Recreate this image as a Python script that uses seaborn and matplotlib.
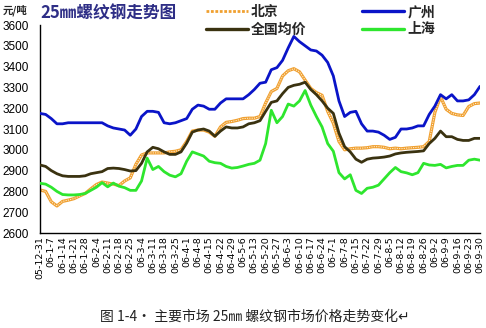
import numpy as np
import pandas as pd
import matplotlib
matplotlib.use("Agg")
import matplotlib.pyplot as plt
from matplotlib.lines import Line2D
import seaborn as sns

# half-week sample positions (days since 2005-12-31)
days = np.arange(79) * 3.5

guangzhou = [3175, 3170, 3150, 3125, 3125, 3130, 3130, 3130, 3130, 3130,
             3130, 3130, 3115, 3105, 3100, 3095, 3070, 3100, 3160, 3185,
             3185, 3180, 3130, 3125, 3130, 3140, 3150, 3195, 3215, 3210,
             3195, 3195, 3225, 3245, 3245, 3245, 3245, 3265, 3290, 3320,
             3325, 3385, 3395, 3430, 3490, 3545, 3520, 3500, 3480, 3475,
             3455, 3420, 3355, 3235, 3160, 3180, 3185, 3125, 3090, 3090,
             3085, 3070, 3050, 3060, 3100, 3100, 3105, 3115, 3115, 3170,
             3210, 3265, 3245, 3265, 3235, 3235, 3240, 3265, 3305]

national = [2927, 2920, 2900, 2885, 2875, 2872, 2872, 2872, 2875, 2885,
            2890, 2895, 2910, 2912, 2910, 2905, 2898, 2900, 2935, 2990,
            3012, 3005, 2990, 2978, 2978, 2990, 3032, 3085, 3095, 3100,
            3090, 3065, 3090, 3110, 3105, 3105, 3110, 3125, 3130, 3140,
            3185, 3228, 3235, 3270, 3300, 3310, 3315, 3325, 3290, 3265,
            3235, 3200, 3175, 3080, 3015, 2990, 2955, 2940, 2955, 2960,
            2962, 2965, 2970, 2980, 2985, 2988, 2990, 2992, 2995, 3030,
            3055, 3090, 3063, 3063, 3050, 3045, 3045, 3055, 3055]

beijing = [2807, 2800, 2750, 2730, 2752, 2758, 2765, 2778, 2790, 2812,
           2833, 2845, 2840, 2835, 2828, 2850, 2865, 2930, 2975, 2985,
           2985, 2985, 2985, 2990, 2993, 3000, 3040, 3090, 3095, 3095,
           3085, 3065, 3110, 3132, 3136, 3142, 3150, 3152, 3152, 3160,
           3225, 3280, 3295, 3355, 3380, 3390, 3375, 3335, 3295, 3275,
           3262, 3185, 3128, 3040, 3000, 3005, 3008, 3008, 3010, 3015,
           3015, 3012, 3005, 3008, 3005, 3008, 3010, 3012, 3015, 3040,
           3180, 3255, 3195, 3175, 3168, 3165, 3208, 3222, 3225]

shanghai = [2839, 2835, 2820, 2800, 2785, 2783, 2783, 2785, 2790, 2805,
            2820, 2842, 2822, 2840, 2825, 2818, 2805, 2805, 2850, 2960,
            2905, 2920, 2895, 2878, 2870, 2885, 2945, 2990, 2980, 2970,
            2945, 2938, 2935, 2920, 2912, 2915, 2922, 2930, 2935, 2950,
            3030, 3190, 3130, 3160, 3220, 3210, 3235, 3285, 3215, 3160,
            3110, 3030, 2993, 2890, 2860, 2880, 2805, 2790, 2815, 2820,
            2830, 2860, 2890, 2915, 2895, 2889, 2880, 2890, 2935, 2927,
            2925, 2930, 2913, 2920, 2925, 2925, 2950, 2955, 2950]

tick_labels = ["05-12-31", "06-1-7", "06-1-14", "06-1-21", "06-1-28", "06-2-4",
               "06-2-11", "06-2-18", "06-2-25", "06-3-4", "06-3-11", "06-3-18",
               "06-3-25", "06-4-1", "06-4-8", "06-4-15", "06-4-22", "06-4-29",
               "06-5-6", "06-5-13", "06-5-20", "06-5-27", "06-6-3", "06-6-10",
               "06-6-17", "06-6-24", "06-7-1", "06-7-8", "06-7-15", "06-7-22",
               "06-7-29", "06-8-5", "06-8-12", "06-8-19", "06-8-26", "06-9-2",
               "06-9-9", "06-9-16", "06-9-23", "06-9-30"]
tick_days = np.arange(len(tick_labels)) * 7

series_names = ["北京", "全国均价", "广州", "上海"]

sns.set_theme(style="white")
CJK = ["Noto Sans CJK SC", "DejaVu Sans"]
plt.rcParams["font.family"] = CJK

c_bj = "#F0A030"
c_nat = "#3A3210"
c_gz = "#0A14C8"
c_sh = "#2EE62E"

fig = plt.figure(figsize=(4.86, 3.28), dpi=100)
ax = fig.add_axes([40 / 486, 95 / 328, 440 / 486, 208 / 328])

df = pd.DataFrame({"day": days, "北京": beijing, "全国均价": national,
                   "广州": guangzhou, "上海": shanghai})

LW = 2.0
# Beijing: orange chain-like line
sns.lineplot(data=df, x="day", y="北京", ax=ax, color=c_bj, linewidth=2.3, zorder=2)
sns.lineplot(data=df, x="day", y="北京", ax=ax, color="#FFF4E0", linewidth=0.7,
             linestyle=(0, (1.2, 1.2)), zorder=2.1)
sns.lineplot(data=df, x="day", y="全国均价", ax=ax, color=c_nat, linewidth=LW, zorder=3)
sns.lineplot(data=df, x="day", y="上海", ax=ax, color=c_sh, linewidth=LW, zorder=4)
sns.lineplot(data=df, x="day", y="广州", ax=ax, color=c_gz, linewidth=LW, zorder=5)

ax.set_xlim(0, 273)
ax.set_ylim(2600, 3600)
ax.set_xticks(tick_days)
ax.set_xticklabels(tick_labels, rotation=90, fontsize=6.8, family=["DejaVu Sans"])
ax.set_yticks(np.arange(2600, 3601, 100))
ax.set_yticklabels([str(v) for v in range(2600, 3601, 100)], fontsize=8.5,
                   family=["Liberation Sans"])
ax.tick_params(axis="x", direction="in", length=3.5, width=0.8, pad=2, colors="black")
ax.tick_params(axis="y", direction="in", length=3.5, width=0.8, pad=8, colors="black")
ax.set_xlabel("")
ax.set_ylabel("")
for s in ["top", "right"]:
    ax.spines[s].set_visible(False)
for s in ["left", "bottom"]:
    ax.spines[s].set_color("black")
    ax.spines[s].set_linewidth(1.0)
ax.grid(False)

# titles
fig.text(3 / 486, 1 - 10 / 328, "元/吨", fontsize=7.5, fontweight="bold",
         va="center", ha="left", family=CJK)
fig.text(40 / 486, 1 - 13 / 328, "25㎜螺纹钢走势图", fontsize=12, fontweight="bold",
         color="#2E2E86", va="center", ha="left", family=CJK)

# legend
handles = [
    Line2D([], [], color=c_bj, linewidth=2.0, linestyle=(0, (1, 0.6))),
    Line2D([], [], color=c_nat, linewidth=2.4),
    Line2D([], [], color=c_gz, linewidth=2.4),
    Line2D([], [], color=c_sh, linewidth=2.4),
]
leg = fig.legend(handles, series_names, ncol=2, loc="upper left",
                 bbox_to_anchor=(206 / 486, 1 - 5 / 328), frameon=False,
                 handlelength=3.0, handletextpad=0.25, columnspacing=4.0,
                 labelspacing=0.25, borderpad=0, borderaxespad=0,
                 prop={"family": CJK, "weight": "bold", "size": 10})

fig.text(100 / 486, 1 - 317 / 328, "图 1-4· 主要市场 25㎜ 螺纹钢市场价格走势变化↵",
         fontsize=10, color="#222222", va="center", ha="left", family=CJK)

fig.savefig("out.png", dpi=100, facecolor="white")
